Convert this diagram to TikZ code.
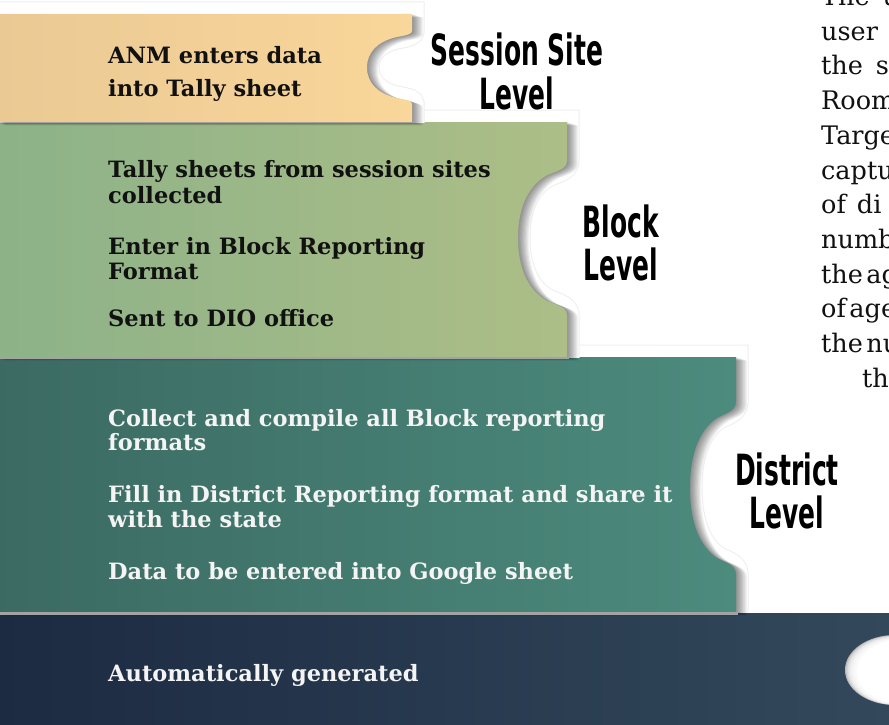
\documentclass[tikz,border=0pt]{standalone}
\usepackage{fontspec}
\setmainfont{DejaVu Serif}
\newfontfamily\lvlfont{DejaVu Sans Condensed Bold}[FakeStretch=0.645]

\definecolor{ink}{HTML}{111111}
\definecolor{paper}{HTML}{F4F4F4}
\definecolor{sandL}{HTML}{EAC994}
\definecolor{sandR}{HTML}{F9D699}
\definecolor{sageL}{HTML}{8CB288}
\definecolor{sageR}{HTML}{ADBE87}
\definecolor{tealL}{HTML}{3B6A62}
\definecolor{tealR}{HTML}{4C8B7D}
\definecolor{navyL}{HTML}{1C2A42}
\definecolor{navyR}{HTML}{33495B}
\definecolor{seam}{HTML}{A3A3A3}

% outline of one band: top, bottom, right edge, notch top, notch bottom, notch depth
\newcommand{\bandshape}[6]{%
 (-6,#1) -- (#3,#1) -- (#3,#4)
 .. controls (#3,{#4+0.06*(#5-#4)}) and ({#3-0.30*#6},{#4+0.07*(#5-#4)}) .. ({#3-0.45*#6},{#4+0.10*(#5-#4)})
 .. controls ({#3-0.75*#6},{#4+0.16*(#5-#4)}) and ({#3-#6},{0.5*(#4+#5)-0.22*(#5-#4)}) .. ({#3-#6},{0.5*(#4+#5)})
 .. controls ({#3-#6},{0.5*(#4+#5)+0.22*(#5-#4)}) and ({#3-0.75*#6},{#5-0.16*(#5-#4)}) .. ({#3-0.45*#6},{#5-0.10*(#5-#4)})
 .. controls ({#3-0.30*#6},{#5-0.07*(#5-#4)}) and (#3,{#5-0.06*(#5-#4)}) .. (#3,#5)
 -- (#3,#2) -- (-6,#2) -- cycle}

% halo, soft shadow and shaded fill of one band
\newcommand{\drawband}[8]{%
 \begin{scope}
  \clip (-20,{#1-20}) rectangle (900,#2);
  \draw[line width=25, gray!13] \bandshape{#1}{#2}{#3}{#4}{#5}{#6};
  \draw[line width=23, white] \bandshape{#1}{#2}{#3}{#4}{#5}{#6};
 \end{scope}
 \foreach \k in {1,...,10}{
  \fill[black, opacity=0.05, shift={(\k*1.1,\k*0.35)}] \bandshape{#1}{#2}{#3}{#4}{#5}{#6};
 }
 \shade[left color=#7, right color=#8] \bandshape{#1}{#2}{#3}{#4}{#5}{#6};
}

\tikzset{
 bandtxt/.style={anchor=base west, inner sep=0pt, font=\fontsize{22.5}{26}\selectfont\bfseries},
 darktxt/.style={bandtxt, text=ink},
 lighttxt/.style={bandtxt, text=paper},
 lvl/.style={anchor=base, inner sep=0pt, text=black, font=\lvlfont\fontsize{43}{46}\selectfont},
 body/.style={anchor=base west, inner sep=0pt, text=ink, font=\fontsize{25.5}{30}\selectfont},
}

\begin{document}
\begin{tikzpicture}[x=1pt,y=-1pt]
\useasboundingbox (0,0) rectangle (889,725);
\clip (0,0) rectangle (889,725);
\fill[white] (0,0) rectangle (889,725);

% bottom band with its round cut-out
\shade[left color=navyL, right color=navyR] (-6,613) rectangle (895,730);
\fill[gray!55] (895,670) ellipse [x radius=50, y radius=35];
\foreach \k in {1,...,8}{
 \fill[white, opacity=0.3] ({895+\k*0.9},{670+\k*0.2}) ellipse [x radius={50-\k*0.3}, y radius={35-\k*0.25}];
}
\fill[white] (903,671.5) ellipse [x radius=46, y radius=32.5];

% the three stepped bands, lowest first
\drawband{357}{612}{736}{402}{574}{46}{tealL}{tealR}
\fill[seam] (-6,612) rectangle (738,614.5);
\drawband{122}{357}{567}{161}{315}{49}{sageL}{sageR}
\fill[seam] (-6,356.5) rectangle (569,359);
\drawband{14}{122}{412}{31}{104}{45}{sandL}{sandR}

% band texts
\node[darktxt] (t1a) at (108,63.3) {ANM enters data};
\node[darktxt] (t1b) at (108,96.7) {into Tally sheet};

\node[darktxt] (t2a) at (108,177.3) {Tally sheets from session sites};
\node[darktxt] (t2b) at (108,203.3) {collected};
\node[darktxt] (t2c) at (108,254) {Enter in Block Reporting};
\node[darktxt] (t2d) at (108,279.3) {Format};
\node[darktxt] (t2e) at (108,326.7) {Sent to DIO office};

\node[lighttxt] (t3a) at (108,426) {Collect and compile all Block reporting};
\node[lighttxt] (t3b) at (108,450) {formats};
\node[lighttxt] (t3c) at (108,502.7) {Fill in District Reporting format and share it};
\node[lighttxt] (t3d) at (108,527.7) {with the state};
\node[lighttxt] (t3e) at (108,579.3) {Data to be entered into Google sheet};

\node[lighttxt] (t4a) at (108,681.7) {Automatically generated};

% level labels
\node[lvl] (l1a) at (517,66) {Session Site};
\node[lvl] (l1b) at (517,110) {Level};
\node[lvl] (l2a) at (621,237) {Block};
\node[lvl] (l2b) at (621,280) {Level};
\node[lvl] (l3a) at (787,485) {District};
\node[lvl] (l3b) at (787,528) {Level};

% running text at the right edge
\node[body] (p0) at (821,5.5) {The\hspace{13pt}u};
\node[body] (p1) at (821,40.2) {user};
\node[body] (p2) at (821,74.9) {the\hspace{13pt}s};
\node[body] (p3) at (821,109.6) {Room};
\node[body] (p4) at (821,144.3) {Targe};
\node[body] (p5) at (821,179) {captu};
\node[body] (p6) at (821,213.7) {of\hspace{11pt}di};
\node[body] (p7) at (821,248.4) {numb};
\node[body] (p8) at (821,283.1) {the\hspace{3.5pt}ag};
\node[body] (p9) at (821,317.8) {of\hspace{3.5pt}age};
\node[body] (p10) at (821,352.5) {the\hspace{3.5pt}nu};
\node[body] (p11) at (862,387.2) {th};
\end{tikzpicture}
\end{document}
